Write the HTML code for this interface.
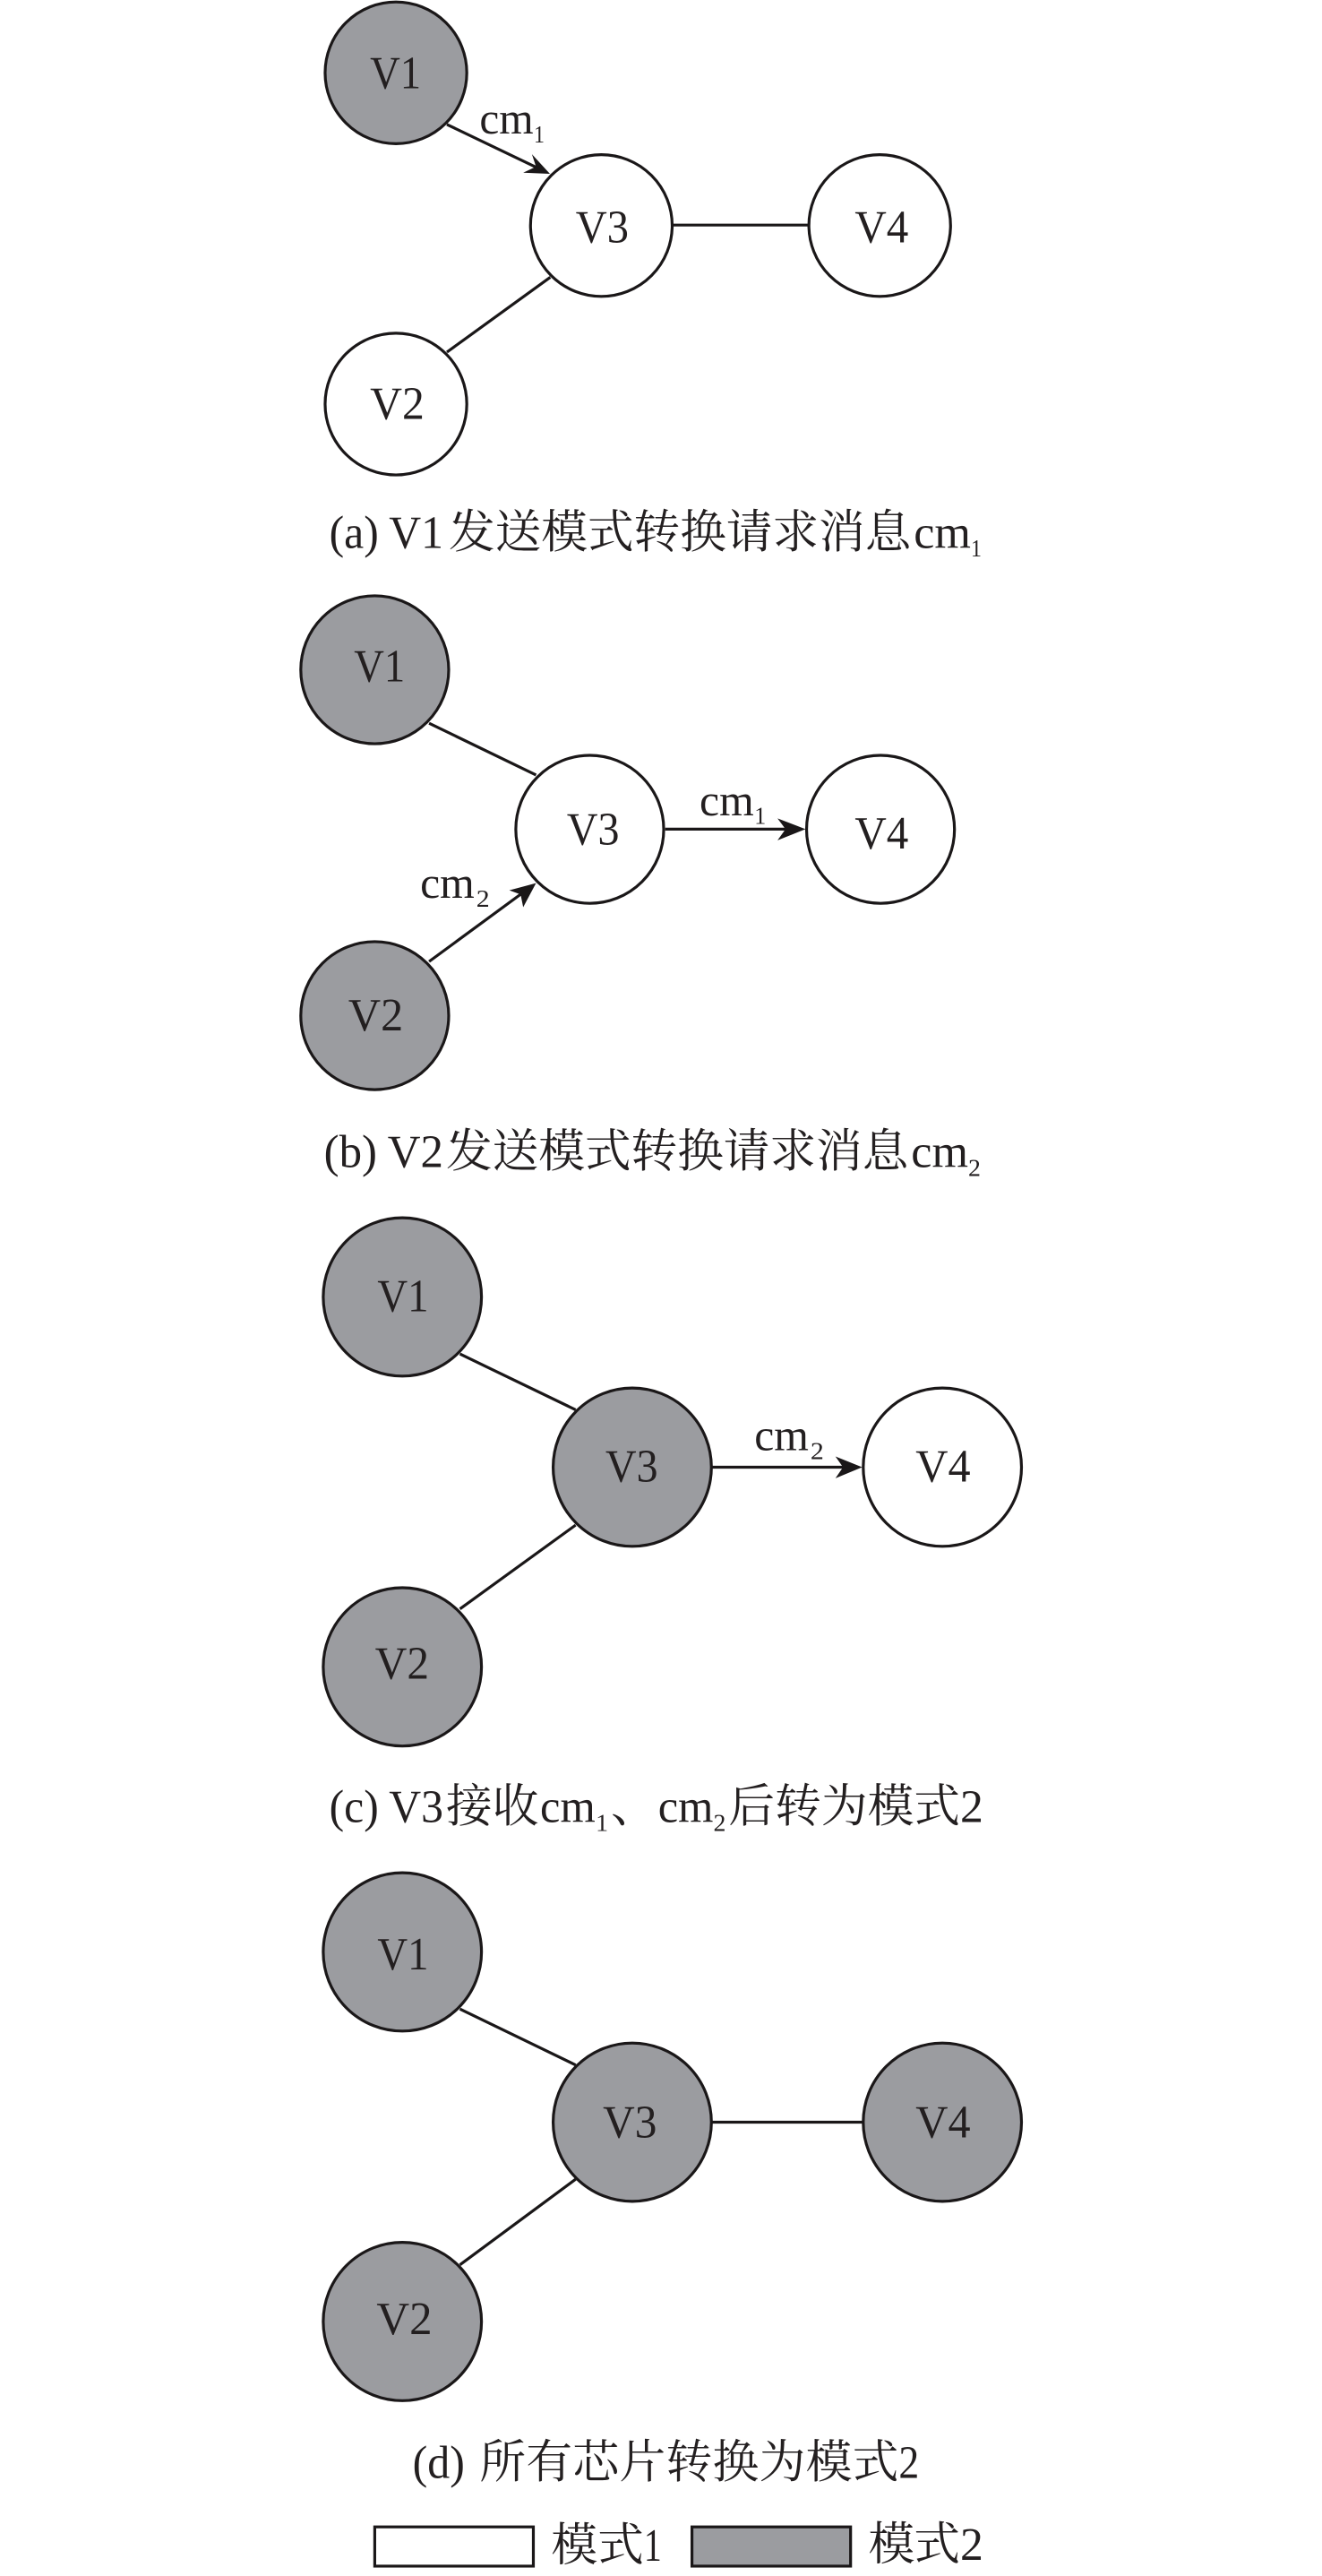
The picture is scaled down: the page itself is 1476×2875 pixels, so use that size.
<!DOCTYPE html>
<html>
<head>
<meta charset="utf-8">
<style>
html,body{margin:0;padding:0;background:#fff;}
svg{display:block;}
text{font-family:"Liberation Serif","Noto Serif CJK SC",serif;fill:#231f20;}
.n{font-size:52px;}
.c{font-size:50px;}
.k{font-size:52px;}
.s{font-size:28px;}
.z{font-size:52px;font-family:"Noto Serif CJK SC","Liberation Serif",serif;}
circle,rect.b{stroke:#1a1718;stroke-width:3.2;}
.g{fill:#9b9ca0;}
.w{fill:#fff;}
line{stroke:#1a1718;stroke-width:3.2;}
polygon{fill:#1a1718;}
</style>
</head>
<body>
<svg width="1476" height="2875" viewBox="0 0 1476 2875" xmlns="http://www.w3.org/2000/svg">
<rect width="1476" height="2875" fill="#fff"/>

<!-- (a) -->
<g transform="translate(1.53 0) scale(0.9949)">
<line x1="500" y1="139.6" x2="602" y2="188.5"/>
<polygon points="615.6,195 585.6,193.7 600,187 595.4,173"/>
<line x1="500" y1="395" x2="616" y2="311"/>
<line x1="754" y1="252.5" x2="905" y2="252.5"/>
<circle class="g" cx="442.8" cy="81.7" r="79.5"/>
<circle class="w" cx="442.8" cy="453.3" r="79.5"/>
<circle class="w" cx="673.3" cy="253" r="79.5"/>
<circle class="w" cx="985.7" cy="253" r="79.5"/>
<text class="n" x="413.7" y="99" textLength="57.3" lengthAdjust="spacingAndGlyphs">V1</text>
<text class="n" x="413.7" y="470" textLength="61" lengthAdjust="spacingAndGlyphs">V2</text>
<text class="n" x="644.5" y="271.7" textLength="59.5" lengthAdjust="spacingAndGlyphs">V3</text>
<text class="n" x="957.7" y="272" textLength="60.3" lengthAdjust="spacingAndGlyphs">V4</text>
<text class="c" x="536.6" y="150" textLength="60.6" lengthAdjust="spacingAndGlyphs">cm</text>
<text class="s" x="597.5" y="160" textLength="12" lengthAdjust="spacingAndGlyphs">1</text>
<text class="k" x="368" y="614.6" textLength="128" lengthAdjust="spacingAndGlyphs" xml:space="preserve">(a) V1</text>
<text class="z" x="502" y="614.6" textLength="519">发送模式转换请求消息</text>
<text class="k" x="1024" y="614.6" textLength="64" lengthAdjust="spacingAndGlyphs">cm</text>
<text class="s" x="1088" y="624" textLength="12" lengthAdjust="spacingAndGlyphs">1</text>
</g>

<!-- (b) -->
<g transform="translate(1.53 3.32) scale(0.9949)">
<line x1="480" y1="808" x2="600" y2="866"/>
<line x1="480" y1="1075.3" x2="588" y2="996"/>
<polygon points="600,987.4 570,995.4 582.7,1000 585.6,1014.3"/>
<line x1="745" y1="926.8" x2="885" y2="926.8"/>
<polygon points="902.4,926.8 871,914.7 880,926.8 871,939.4"/>
<circle class="g" cx="419" cy="748" r="83"/>
<circle class="g" cx="419" cy="1136" r="83"/>
<circle class="w" cx="660.3" cy="927" r="83"/>
<circle class="w" cx="986.6" cy="927" r="83"/>
<text class="n" x="395.8" y="761" textLength="57.2" lengthAdjust="spacingAndGlyphs">V1</text>
<text class="n" x="389.4" y="1152.5" textLength="61.6" lengthAdjust="spacingAndGlyphs">V2</text>
<text class="n" x="634.6" y="944" textLength="58.9" lengthAdjust="spacingAndGlyphs">V3</text>
<text class="n" x="957.7" y="948.3" textLength="60.3" lengthAdjust="spacingAndGlyphs">V4</text>
<text class="c" x="783.5" y="911.5" textLength="61" lengthAdjust="spacingAndGlyphs">cm</text>
<text class="s" x="845" y="921" textLength="13" lengthAdjust="spacingAndGlyphs">1</text>
<text class="c" x="470" y="1004" textLength="61" lengthAdjust="spacingAndGlyphs">cm</text>
<text class="s" x="533" y="1014" textLength="15" lengthAdjust="spacingAndGlyphs">2</text>
<text class="k" x="362" y="1306" textLength="134" lengthAdjust="spacingAndGlyphs" xml:space="preserve">(b) V2</text>
<text class="z" x="499" y="1306" textLength="519">发送模式转换请求消息</text>
<text class="k" x="1021" y="1306" textLength="64" lengthAdjust="spacingAndGlyphs">cm</text>
<text class="s" x="1085" y="1316" textLength="14" lengthAdjust="spacingAndGlyphs">2</text>
</g>

<!-- (c) -->
<g transform="translate(1.53 6.83) scale(0.9949)">
<line x1="514.6" y1="1512" x2="644.4" y2="1574.6"/>
<line x1="514.6" y1="1798" x2="644.4" y2="1704"/>
<line x1="798" y1="1639" x2="950" y2="1639"/>
<polygon points="966,1639 936,1627 944.5,1639 936,1651.5"/>
<circle class="g" cx="450" cy="1448" r="88.8"/>
<circle class="g" cx="450" cy="1863" r="88.8"/>
<circle class="g" cx="708" cy="1639" r="88.8"/>
<circle class="w" cx="1056" cy="1639" r="88.8"/>
<text class="n" x="422" y="1464" textLength="57.4" lengthAdjust="spacingAndGlyphs">V1</text>
<text class="n" x="419.4" y="1876" textLength="60.6" lengthAdjust="spacingAndGlyphs">V2</text>
<text class="n" x="678" y="1655" textLength="58.8" lengthAdjust="spacingAndGlyphs">V3</text>
<text class="n" x="1026" y="1655" textLength="61.6" lengthAdjust="spacingAndGlyphs">V4</text>
<text class="c" x="845" y="1620" textLength="61" lengthAdjust="spacingAndGlyphs">cm</text>
<text class="s" x="908" y="1630" textLength="15" lengthAdjust="spacingAndGlyphs">2</text>
<text class="k" x="368" y="2037" textLength="128" lengthAdjust="spacingAndGlyphs" xml:space="preserve">(c) V3</text>
<text class="z" x="499" y="2037" textLength="104">接收</text>
<text class="k" x="604.6" y="2037" textLength="62" lengthAdjust="spacingAndGlyphs">cm</text>
<text class="s" x="667" y="2047" textLength="14" lengthAdjust="spacingAndGlyphs">1</text>
<text class="z" x="684" y="2037">、</text>
<text class="k" x="737" y="2037" textLength="62" lengthAdjust="spacingAndGlyphs">cm</text>
<text class="s" x="799" y="2047" textLength="14" lengthAdjust="spacingAndGlyphs">2</text>
<text class="z" x="816" y="2037" textLength="260">后转为模式</text>
<text class="k" x="1076" y="2037" textLength="26" lengthAdjust="spacingAndGlyphs">2</text>
</g>

<!-- (d) -->
<g transform="translate(1.53 10.6) scale(0.9949)">
<line x1="514.6" y1="2243" x2="644.4" y2="2305.8"/>
<line x1="514.6" y1="2530" x2="644.4" y2="2434"/>
<line x1="798" y1="2370" x2="966" y2="2370"/>
<circle class="g" cx="450" cy="2179" r="88.8"/>
<circle class="g" cx="450" cy="2593.6" r="88.8"/>
<circle class="g" cx="708" cy="2370" r="88.8"/>
<circle class="g" cx="1056" cy="2370" r="88.8"/>
<text class="n" x="422" y="2198.8" textLength="57.4" lengthAdjust="spacingAndGlyphs">V1</text>
<text class="n" x="421" y="2607.5" textLength="62.5" lengthAdjust="spacingAndGlyphs">V2</text>
<text class="n" x="675" y="2387" textLength="60.6" lengthAdjust="spacingAndGlyphs">V3</text>
<text class="n" x="1026" y="2387" textLength="61.6" lengthAdjust="spacingAndGlyphs">V4</text>
<text class="k" x="461.5" y="2769" textLength="58.5" lengthAdjust="spacingAndGlyphs">(d)</text>
<text class="z" x="536.6" y="2769" textLength="470.4">所有芯片转换为模式</text>
<text class="k" x="1007" y="2769" textLength="23" lengthAdjust="spacingAndGlyphs">2</text>

<!-- legend -->
<rect class="b w" x="419" y="2824" width="178" height="44"/>
<text class="z" x="617" y="2862" textLength="104">模式</text>
<text class="k" x="721" y="2862" textLength="20" lengthAdjust="spacingAndGlyphs">1</text>
<rect class="b g" x="775" y="2824" width="178" height="44"/>
<text class="z" x="973" y="2861" textLength="103">模式</text>
<text class="k" x="1076" y="2861" textLength="26" lengthAdjust="spacingAndGlyphs">2</text>
</g>
</svg>
</body>
</html>
